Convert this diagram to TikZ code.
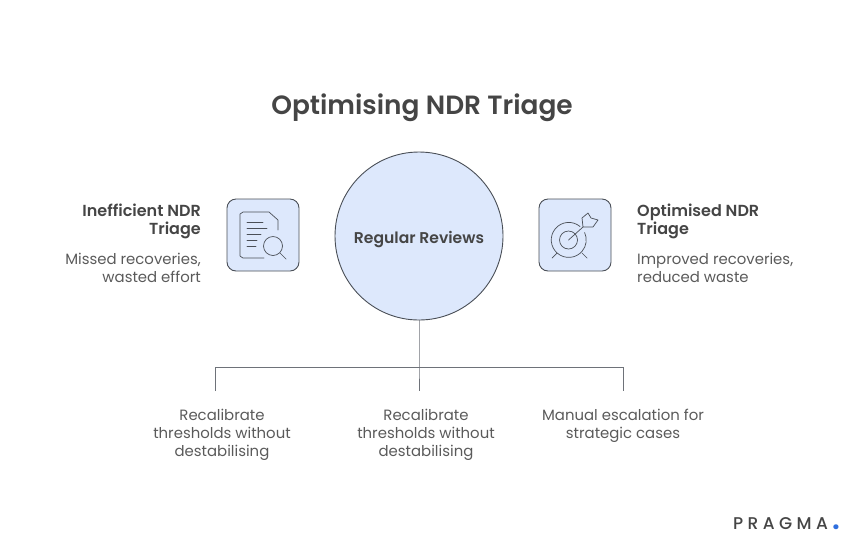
\documentclass[tikz,border=0pt]{standalone}
\usepackage{fontspec}
\setmainfont{Poppins}[BoldFont={Poppins SemiBold}]
\newfontfamily\logofont{Poppins Medium}[LetterSpace=26]
\usetikzlibrary{positioning}
\definecolor{boxfill}{HTML}{DDE8FC}
\definecolor{boxline}{HTML}{4A4F57}
\definecolor{inktext}{HTML}{5A5A5A}
\definecolor{inkhead}{HTML}{454545}
\definecolor{dotblue}{HTML}{2F6FDE}

\begin{document}
\begin{tikzpicture}[
  x=1pt, y=-1pt,
  node distance=14pt and 30pt,
  hub/.style={draw=boxline,fill=boxfill,circle,line width=0.9pt,minimum size=168pt,inner sep=0pt,
    font=\fontsize{15.6}{18}\selectfont\bfseries,text=inkhead},
  iconbox/.style={draw=boxline,fill=boxfill,rounded corners=9pt,line width=0.9pt,minimum size=72pt,inner sep=0pt},
  head/.style={inner sep=0pt,text=inkhead,font=\fontsize{16}{18}\selectfont\bfseries},
  body/.style={inner sep=0pt,text=inktext,font=\fontsize{14.9}{18}\selectfont},
  stem/.style={draw=boxline!80,line width=0.9pt},
  glyph/.style={draw=boxline,line width=0.7pt,line cap=round,line join=round}
]
\useasboundingbox (0,0) rectangle (858,550);

\node[inner sep=0pt,text=inkhead,font=\fontsize{26.4}{30}\selectfont\bfseries] (title) at (422,108) {Optimising NDR Triage};

\node[hub] (review) at (419,236) {\raisebox{-7pt}[0pt][0pt]{Regular Reviews}};
\node[iconbox] (doc) at (263,235) {};
\node[iconbox] (goal) at (575,235) {};

% left and right texts
\node[head,align=right,anchor=north east] (badhead) at (201,204) {Inefficient NDR\\Triage};
\node[body,align=right,below=of badhead.south east,anchor=north east] (badbody) {Missed recoveries,\\wasted effort};
\node[head,align=left,anchor=north west] (goodhead) at (637,204) {Optimised NDR\\Triage};
\node[body,align=left,below=of goodhead.south west,anchor=north west] (goodbody) {Improved recoveries,\\reduced waste};

% tree below the circle
\coordinate (fork) at (419,367);
\coordinate (forkl) at (215,367);
\coordinate (forkr) at (623,367);
\coordinate (legl) at (215,391);
\coordinate (legm) at (419,391);
\coordinate (legr) at (623,391);
\draw[stem] (review.south) -- (fork) -- (legm);
\draw[stem] (legl) -- (forkl) -- (forkr) -- (legr);

\node[body,align=center,anchor=north] (recala) at (222,409) {Recalibrate\\thresholds without\\destabilising};
\node[body,align=center,anchor=north] (recalb) at (426,409) {Recalibrate\\thresholds without\\destabilising};
\node[body,align=center,anchor=north] (manual) at (623,409) {Manual escalation for\\strategic cases};

% document icon
\draw[glyph] (278,230) -- (278,220) -- (269,212) -- (243,212) -- (240,214) -- (240,256) -- (243,258) -- (264,258);
\foreach \ya/\xb in {222/263,228/267,234/261,240/257,246/256}
  \draw[glyph] (247,\ya) -- (\xb,\ya);
\draw[glyph] (273,246) circle[radius=9.5pt];
\draw[glyph] (280,253) -- (286,259);

% target icon
\draw[glyph] (568.5,240) circle[radius=9pt];
\draw[glyph] (580,226.5) arc[start angle=50,end angle=385,radius=17.5pt];
\draw[glyph] (568.5,240) -- (583,227);
\draw[glyph] (583,227) -- (582,218) -- (588,213) -- (591,218) -- (598,220) -- (593,227) -- cycle;
\draw[glyph] (552,258) -- (557,253);
\draw[glyph] (587,258) -- (582,253);

% logo
\node[inner sep=0pt,anchor=base west,text=inkhead,font=\fontsize{17}{18}\logofont] (logo) at (733,529) {PRAGMA{\normalfont\bfseries\fontsize{30}{18}\selectfont\kern4pt\textcolor{dotblue}{.}}};
\end{tikzpicture}
\end{document}
